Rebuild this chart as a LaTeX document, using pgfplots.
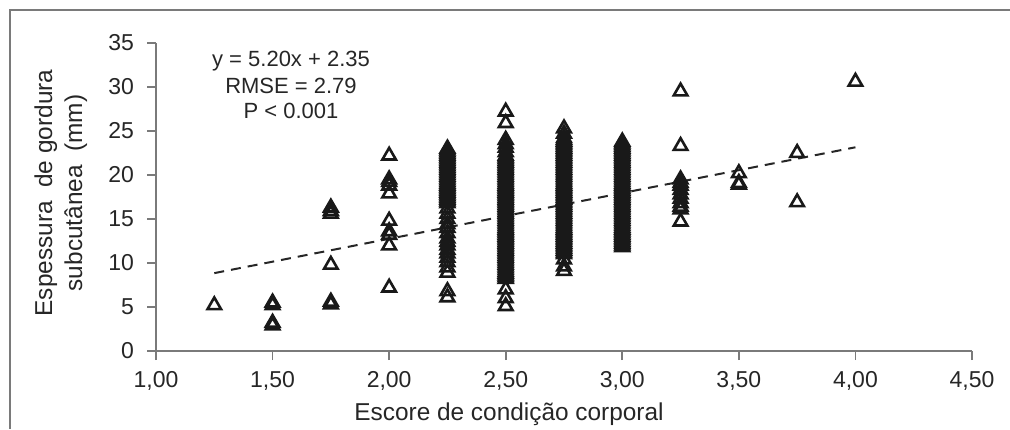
\documentclass[border=0pt]{standalone}
\usepackage{pgfplots}
\pgfplotsset{compat=1.18}
\usepackage{fontspec}
\setmainfont{Liberation Sans}
\definecolor{axgray}{HTML}{7A7A7A}
\begin{document}
\begin{tikzpicture}
\path[use as bounding box] (0pt,0pt) rectangle (505pt,214.5pt);
\draw[axgray, line width=1pt] (505pt,209.5pt) -- (5pt,209.5pt) -- (5pt,0pt);
\begin{axis}[
  at={(78pt,39pt)}, anchor=south west,
  scale only axis, width=408pt, height=154pt,
  xmin=1, xmax=4.5, ymin=0, ymax=35,
  axis lines*=left,
  axis line style={axgray, line width=0.8pt},
  tick style={axgray, line width=0.8pt},
  tick align=outside, major tick length=4.5pt,
  xtick={1,1.5,2,2.5,3,3.5,4,4.5},
  xticklabels={{1,00},{1,50},{2,00},{2,50},{3,00},{3,50},{4,00},{4,50}},
  ytick={0,5,10,15,20,25,30,35},
  yticklabels={0,5,10,15,20,25,30,35},
  ticklabel style={font=\fontsize{11.5}{13}\selectfont, text=black!85},
  xticklabel style={yshift=-2pt},
  yticklabel style={xshift=-3pt},
  clip=false,
]
\addplot[only marks, mark=triangle, mark size=3.9pt, mark options={line width=1.3pt, black!90}]
coordinates {
(1.25,5.2)
(1.5,5.5)(1.5,5.2)(1.5,3.2)(1.5,2.9)
(1.75,16.3)(1.75,15.9)(1.75,15.6)(1.75,9.8)(1.75,5.6)(1.75,5.3)
(2.0,22.2)(2.0,19.5)(2.0,19.2)(2.0,18.8)(2.0,17.9)(2.0,14.8)(2.0,13.6)(2.0,13.2)(2.0,12.0)(2.0,7.2)
(2.25,16.8)(2.25,17.0)(2.25,17.2)(2.25,17.4)(2.25,17.6)(2.25,17.8)(2.25,18.0)(2.25,18.2)(2.25,18.4)(2.25,18.6)
(2.25,18.8)(2.25,19.0)(2.25,19.2)(2.25,19.4)(2.25,19.6)(2.25,19.8)(2.25,20.0)(2.25,20.2)(2.25,20.4)(2.25,20.6)
(2.25,20.8)(2.25,21.0)(2.25,21.2)(2.25,21.4)(2.25,21.6)(2.25,21.8)(2.25,22.0)(2.25,22.2)(2.25,22.4)(2.25,22.6)
(2.25,22.8)(2.25,23.0)
(2.25,16.2)(2.25,15.6)(2.25,15.0)(2.25,14.4)(2.25,14.0)(2.25,13.4)(2.25,12.8)(2.25,12.4)(2.25,12.0)(2.25,11.5)
(2.25,11.1)(2.25,10.6)(2.25,10.1)(2.25,9.5)(2.25,8.9)(2.25,6.8)(2.25,6.1)
(2.5,27.2)(2.5,25.9)(2.5,24.0)(2.5,23.5)(2.5,23.1)(2.5,22.6)(2.5,7.0)(2.5,6.0)(2.5,5.1)
(2.5,8.2)(2.5,8.4)(2.5,8.6)(2.5,8.8)(2.5,9.0)(2.5,9.2)(2.5,9.4)(2.5,9.6)(2.5,9.8)(2.5,10.0)
(2.5,10.2)(2.5,10.4)(2.5,10.6)(2.5,10.8)(2.5,11.0)(2.5,11.2)(2.5,11.4)(2.5,11.6)(2.5,11.8)(2.5,12.0)
(2.5,12.2)(2.5,12.4)(2.5,12.6)(2.5,12.8)(2.5,13.0)(2.5,13.2)(2.5,13.4)(2.5,13.6)(2.5,13.8)(2.5,14.0)
(2.5,14.2)(2.5,14.4)(2.5,14.6)(2.5,14.8)(2.5,15.0)(2.5,15.2)(2.5,15.4)(2.5,15.6)(2.5,15.8)(2.5,16.0)
(2.5,16.2)(2.5,16.4)(2.5,16.6)(2.5,16.8)(2.5,17.0)(2.5,17.2)(2.5,17.4)(2.5,17.6)(2.5,17.8)(2.5,18.0)
(2.5,18.2)(2.5,18.4)(2.5,18.6)(2.5,18.8)(2.5,19.0)(2.5,19.2)(2.5,19.4)(2.5,19.6)(2.5,19.8)(2.5,20.0)
(2.5,20.2)(2.5,20.4)(2.5,20.6)(2.5,20.8)(2.5,21.0)(2.5,21.2)(2.5,21.4)(2.5,21.6)(2.5,21.8)(2.5,22.0)
(2.5,22.2)
(2.75,25.3)(2.75,24.7)(2.75,10.4)(2.75,9.6)(2.75,9.1)
(2.75,11.0)(2.75,11.2)(2.75,11.4)(2.75,11.6)(2.75,11.8)(2.75,12.0)(2.75,12.2)(2.75,12.4)(2.75,12.6)(2.75,12.8)
(2.75,13.0)(2.75,13.2)(2.75,13.4)(2.75,13.6)(2.75,13.8)(2.75,14.0)(2.75,14.2)(2.75,14.4)(2.75,14.6)(2.75,14.8)
(2.75,15.0)(2.75,15.2)(2.75,15.4)(2.75,15.6)(2.75,15.8)(2.75,16.0)(2.75,16.2)(2.75,16.4)(2.75,16.6)(2.75,16.8)
(2.75,17.0)(2.75,17.2)(2.75,17.4)(2.75,17.6)(2.75,17.8)(2.75,18.0)(2.75,18.2)(2.75,18.4)(2.75,18.6)(2.75,18.8)
(2.75,19.0)(2.75,19.2)(2.75,19.4)(2.75,19.6)(2.75,19.8)(2.75,20.0)(2.75,20.2)(2.75,20.4)(2.75,20.6)(2.75,20.8)
(2.75,21.0)(2.75,21.2)(2.75,21.4)(2.75,21.6)(2.75,21.8)(2.75,22.0)(2.75,22.2)(2.75,22.4)(2.75,22.6)(2.75,22.8)
(2.75,23.0)(2.75,23.2)(2.75,23.4)(2.75,23.6)(2.75,23.8)(2.75,24.0)(2.75,24.2)
(3.0,11.8)(3.0,12.0)(3.0,12.2)(3.0,12.4)(3.0,12.6)(3.0,12.8)(3.0,13.0)(3.0,13.2)(3.0,13.4)(3.0,13.6)
(3.0,13.8)(3.0,14.0)(3.0,14.2)(3.0,14.4)(3.0,14.6)(3.0,14.8)(3.0,15.0)(3.0,15.2)(3.0,15.4)(3.0,15.6)
(3.0,15.8)(3.0,16.0)(3.0,16.2)(3.0,16.4)(3.0,16.6)(3.0,16.8)(3.0,17.0)(3.0,17.2)(3.0,17.4)(3.0,17.6)
(3.0,17.8)(3.0,18.0)(3.0,18.2)(3.0,18.4)(3.0,18.6)(3.0,18.8)(3.0,19.0)(3.0,19.2)(3.0,19.4)(3.0,19.6)
(3.0,19.8)(3.0,20.0)(3.0,20.2)(3.0,20.4)(3.0,20.6)(3.0,20.8)(3.0,21.0)(3.0,21.2)(3.0,21.4)(3.0,21.6)
(3.0,21.8)(3.0,22.0)(3.0,22.2)(3.0,22.4)(3.0,22.6)(3.0,22.8)(3.0,23.0)(3.0,23.2)(3.0,23.4)(3.0,23.6)
(3.0,23.8)
(3.25,29.5)(3.25,23.3)(3.25,19.5)(3.25,19.1)(3.25,18.8)(3.25,18.3)(3.25,17.8)(3.25,17.3)(3.25,16.8)(3.25,16.4)
(3.25,16.1)(3.25,14.7)
(3.5,20.2)(3.5,19.1)(3.5,18.9)
(3.75,22.5)(3.75,16.9)
(4.0,30.6)
};
\addplot[black!85, line width=1pt, dash pattern=on 5pt off 3.5pt] coordinates {(1.25,8.85) (4.0,23.15)};
\end{axis}
\node[anchor=base, font=\fontsize{11}{13}\selectfont, text=black!85] at (145.5pt,181.2pt) {y = 5.20x + 2.35};
\node[anchor=base, font=\fontsize{11}{13}\selectfont, text=black!85] at (145.5pt,167.9pt) {RMSE = 2.79};
\node[anchor=base, font=\fontsize{11}{13}\selectfont, text=black!85] at (145.5pt,155.4pt) {P < 0.001};
\node[anchor=base, font=\fontsize{12.2}{14}\selectfont, text=black!85] at (254.5pt,4.5pt) {Escore de condição corporal};
\node[anchor=base, rotate=90, font=\fontsize{12.2}{14}\selectfont, text=black!85] at (26pt,118pt) {Espessura~ de gordura};
\node[anchor=base, rotate=90, font=\fontsize{12.2}{14}\selectfont, text=black!85] at (41pt,118pt) {subcutânea~ (mm)};
\end{tikzpicture}
\end{document}
